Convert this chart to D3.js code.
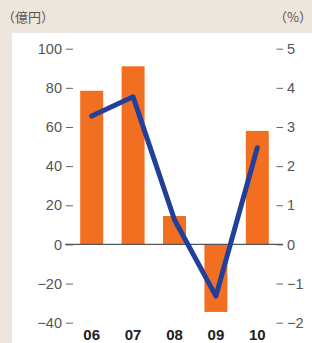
<!DOCTYPE html>
<html lang="ja">
<head>
<meta charset="UTF-8">
<title>億円 / %</title>
<script src="https://d3js.org/d3.v7.min.js"></script>
<style>
  body { margin: 0; background: #ede6dc; }
  svg { display: block; font-family: "Liberation Sans", Arial, sans-serif; }
</style>
</head>
<body>
<div id="chart"></div>
<script>
// data
const years = ["06", "07", "08", "09", "10"];
const amounts = [78.5, 91, 14.5, -34.5, 58];      // 億円, bars
const rates = [3.28, 3.77, 0.63, -1.32, 2.47];   // %, line
const leftTicks = [100, 80, 60, 40, 20, 0, -20, -40];
const rightTicks = [5, 4, 3, 2, 1, 0, -1, -2];

const W = 312, H = 343;
const svg = d3.select("#chart").append("svg")
    .attr("width", W)
    .attr("height", H);

// white panel
svg.append("rect")
    .attr("x", 12).attr("y", 33)
    .attr("width", W - 12).attr("height", H - 33)
    .attr("fill", "#fff");

const x = d3.scaleBand().domain(years).range([71, 278])
    .paddingInner(0.445).paddingOuter(0.2225);
const yL = d3.scaleLinear().domain([-40, 100]).range([322.7, 48.7]);
const yR = d3.scaleLinear().domain([-2, 5]).range([322.7, 48.7]);

const minus = d => d < 0 ? "\u2212" + Math.abs(d) : d;

// left axis
svg.append("g")
    .attr("transform", "translate(73,0)")
    .call(d3.axisLeft(yL).tickValues(leftTicks).tickSize(7).tickPadding(4).tickFormat(minus))
    .call(g => g.select(".domain").remove())
    .call(g => g.selectAll("line").attr("stroke", "#666"))
    .call(g => g.selectAll("text").attr("fill", "#555").style("font-size", "14.5px"));

// right axis
svg.append("g")
    .attr("transform", "translate(276.5,0)")
    .call(d3.axisRight(yR).tickValues(rightTicks).tickSize(6.5).tickPadding(4).tickFormat(minus))
    .call(g => g.select(".domain").remove())
    .call(g => g.selectAll("line").attr("stroke", "#666"))
    .call(g => g.selectAll("text").attr("fill", "#555").style("font-size", "14.5px"));

// bars
svg.append("g")
    .selectAll("rect")
    .data(amounts)
    .join("rect")
    .attr("x", (d, i) => x(years[i]))
    .attr("width", x.bandwidth())
    .attr("y", d => yL(Math.max(0, d)))
    .attr("height", d => Math.abs(yL(d) - yL(0)))
    .attr("fill", "#f26f21");

// zero line
svg.append("line")
    .attr("x1", 65).attr("x2", 283)
    .attr("y1", yL(0)).attr("y2", yL(0))
    .attr("stroke", "#555").attr("stroke-width", 1.2);

// rate line
svg.append("path")
    .datum(rates)
    .attr("fill", "none")
    .attr("stroke", "#22409a")
    .attr("stroke-width", 5)
    .attr("stroke-linecap", "round")
    .attr("stroke-linejoin", "round")
    .attr("d", d3.line()
        .x((d, i) => x(years[i]) + x.bandwidth() / 2)
        .y(d => yR(d)));

// year labels
svg.append("g")
    .selectAll("text")
    .data(years)
    .join("text")
    .attr("x", d => x(d) + x.bandwidth() / 2)
    .attr("y", 340)
    .attr("text-anchor", "middle")
    .attr("font-weight", "bold")
    .attr("font-size", 15)
    .attr("fill", "#222")
    .text(d => d);

// unit labels
svg.append("text")
    .attr("x", 2).attr("y", 22)
    .attr("font-size", 13).attr("fill", "#555")
    .attr("font-family", "'Noto Sans CJK JP', sans-serif")
    .text("（億円）");
svg.append("text")
    .attr("x", 312).attr("y", 22)
    .attr("text-anchor", "end")
    .attr("font-size", 13).attr("fill", "#555")
    .attr("font-family", "'Noto Sans CJK JP', sans-serif")
    .text("（%）");
</script>
</body>
</html>
